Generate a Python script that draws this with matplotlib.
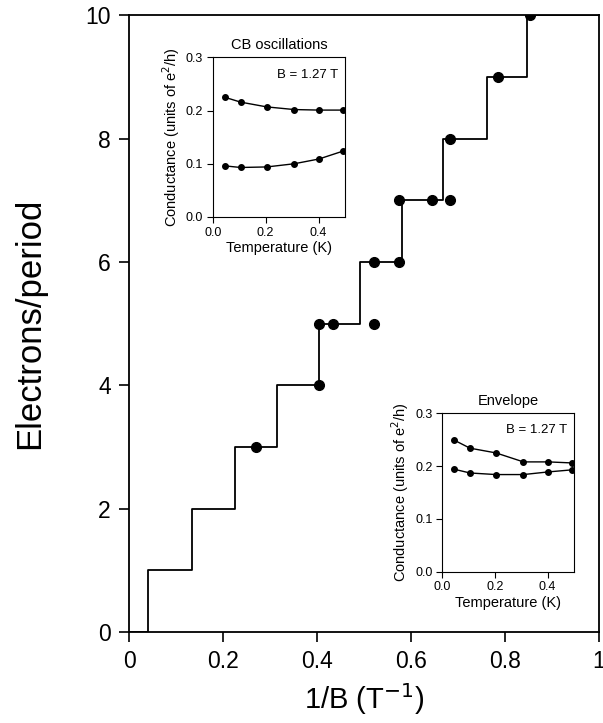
import matplotlib
matplotlib.use('Agg')
import matplotlib.pyplot as plt

plt.rcParams['font.family'] = ['Liberation Sans', 'DejaVu Sans']

# step edges of electrons/period vs 1/B
step_x = [0, 0.040, 0.135, 0.226, 0.314, 0.404, 0.491, 0.581, 0.669, 0.761, 0.848, 1.0]
step_y = [0, 1, 2, 3, 4, 5, 6, 7, 8, 9, 10, 10]

# measured points
dot_x = [0.270, 0.404, 0.404, 0.435, 0.522, 0.522, 0.574, 0.574, 0.644, 0.683, 0.683, 0.786, 0.853]
dot_y = [3, 4, 5, 5, 5, 6, 6, 7, 7, 7, 8, 9, 10]

# insets: temperature (K) and conductance (e^2/h)
temp = [0.046, 0.105, 0.204, 0.308, 0.402, 0.494]
cb_upper = [0.225, 0.216, 0.207, 0.202, 0.201, 0.201]
cb_lower = [0.096, 0.093, 0.094, 0.100, 0.109, 0.124]
env_upper = [0.249, 0.234, 0.225, 0.208, 0.208, 0.206]
env_lower = [0.194, 0.187, 0.184, 0.184, 0.189, 0.193]

fig = plt.figure(figsize=(6.03, 7.23), dpi=100)
ax = fig.add_axes([0.214, 0.126, 0.779, 0.853])
ax.step(step_x, step_y, where='post', color='black', lw=1.3)
ax.plot(dot_x, dot_y, 'o', color='black', ms=7)
ax.set_xlim(0, 1)
ax.set_ylim(0, 10)
ax.set_xticks([0, 0.2, 0.4, 0.6, 0.8, 1.0])
ax.set_xticklabels(['0', '0.2', '0.4', '0.6', '0.8', '1'])
ax.set_yticks([0, 2, 4, 6, 8, 10])
ax.tick_params(direction='out', length=7, width=1.2, labelsize=16.5, pad=6)
ax.set_xlabel('1/B (T$^{-1}$)', fontsize=21, labelpad=6)
ax.set_ylabel('Electrons/period', fontsize=25, labelpad=28)
for s in ax.spines.values():
    s.set_linewidth(1.3)


def inset(rect, title, up, lo):
    a = fig.add_axes(rect)
    a.plot(temp, up, '-o', color='black', ms=4, lw=1)
    a.plot(temp, lo, '-o', color='black', ms=4, lw=1)
    a.set_xlim(0, 0.5)
    a.set_ylim(0, 0.3)
    a.set_xticks([0, 0.2, 0.4])
    a.set_xticklabels(['0.0', '0.2', '0.4'])
    a.set_yticks([0, 0.1, 0.2, 0.3])
    a.set_yticklabels(['0.0', '0.1', '0.2', '0.3'])
    a.tick_params(direction='out', length=4, labelsize=9, pad=3)
    a.set_xlabel('Temperature (K)', fontsize=10.5, labelpad=2)
    a.set_ylabel('Conductance (units of e$^2$/h)', fontsize=10.5, labelpad=3)
    a.set_title(title, fontsize=10.5, pad=6)
    a.text(0.95, 0.93, 'B = 1.27 T', transform=a.transAxes, ha='right', va='top', fontsize=9.5)
    return a


inset([0.353, 0.700, 0.219, 0.2205], 'CB oscillations', cb_upper, cb_lower)
inset([0.7335, 0.2093, 0.2184, 0.219], 'Envelope', env_upper, env_lower)

fig.savefig('out.png', dpi=100)
